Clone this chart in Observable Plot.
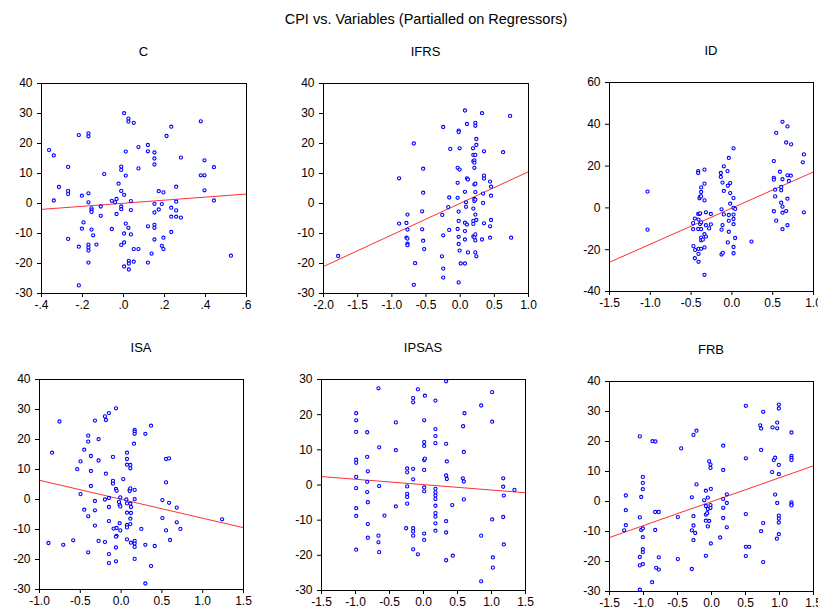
<!DOCTYPE html>
<html><head><meta charset="utf-8">
<script src="https://cdn.jsdelivr.net/npm/d3@7"></script>
<script src="https://cdn.jsdelivr.net/npm/@observablehq/plot@0.6"></script>
<style>
html,body{margin:0;padding:0;background:#fff;}
#chart{position:relative;width:818px;height:610px;overflow:hidden;font-family:"Liberation Sans",Arial,sans-serif;background:#fff;}
.title{position:absolute;white-space:nowrap;transform:translate(-50%,-50%);color:#000;line-height:1;}
.panel{position:absolute;}
.panel svg{max-width:none !important;display:block;}
</style></head><body><div id="chart"></div>
<script>
const MAIN_TITLE = "CPI vs. Variables (Partialled on Regressors)";

// ---- C ----
const C_POINTS = [[-0.363,17.8],[-0.340,16.0],[-0.340,1.0],[-0.315,5.5],[-0.270,12.2],[-0.270,4.2],[-0.270,3.2],[-0.270,-11.8],[-0.218,22.8],[-0.218,-14.4],[-0.218,-27.3],[-0.203,2.6],[-0.203,-8.4],[-0.195,-6.3],[-0.171,23.4],[-0.171,22.4],[-0.171,3.4],[-0.171,0.4],[-0.171,-13.7],[-0.171,-14.7],[-0.171,-15.7],[-0.171,-19.7],[-0.156,-1.6],[-0.156,-2.3],[-0.156,-2.8],[-0.156,-8.7],[-0.148,-10.6],[-0.132,-13.7],[-0.111,-1.0],[-0.111,-4.1],[-0.094,9.8],[-0.057,0.9],[-0.057,-8.5],[-0.041,0.4],[-0.034,1.5],[-0.034,-3.5],[-0.024,6.6],[-0.011,4.2],[-0.011,12.3],[-0.011,11.2],[-0.011,-1.0],[-0.011,-1.9],[-0.011,-13.8],[0.003,30.1],[0.003,2.9],[0.003,-10.0],[0.003,-13.0],[0.003,-21.0],[0.011,17.3],[0.011,9.3],[0.011,-6.7],[0.024,28.3],[0.024,27.3],[0.024,-8.1],[0.026,-19.1],[0.026,-20.0],[0.026,-22.0],[0.036,0.8],[0.036,-2.2],[0.036,-10.3],[0.050,26.9],[0.050,-15.2],[0.050,-19.4],[0.073,18.8],[0.073,11.7],[0.073,-15.2],[0.119,19.5],[0.119,17.4],[0.119,-7.6],[0.119,-19.7],[0.137,-16.7],[0.151,17.0],[0.151,15.0],[0.151,13.0],[0.151,-0.1],[0.151,-3.0],[0.151,-7.1],[0.151,-8.1],[0.151,-12.0],[0.172,4.1],[0.172,-2.0],[0.187,-0.2],[0.187,-14.1],[0.195,3.7],[0.195,-11.4],[0.195,-15.2],[0.210,22.5],[0.233,25.6],[0.233,-1.4],[0.233,-4.4],[0.233,-9.5],[0.257,5.6],[0.257,0.6],[0.257,-2.3],[0.257,-4.4],[0.280,15.3],[0.280,-4.7],[0.377,27.4],[0.377,9.4],[0.395,9.4],[0.395,14.4],[0.395,4.4],[0.441,12.1],[0.441,1.0],[0.524,-17.4]];
const C_LINE_X = [-0.4, 0.6];
const C_LINE_Y = [-1.96, 3.16];
const C_X_TICKS = [-0.4,-0.2,0,0.2,0.4,0.6];
const C_Y_TICKS = [-30,-20,-10,0,10,20,30,40];

// ---- IFRS ----
const IFRS_POINTS = [[-1.785,-17.5],[-0.894,8.4],[-0.894,-6.7],[-0.786,-6.5],[-0.786,-11.4],[-0.771,-3.7],[-0.771,-8.7],[-0.771,-11.7],[-0.771,-13.4],[-0.771,-13.9],[-0.678,20.0],[-0.678,-27.1],[-0.659,-19.9],[-0.556,-2.6],[-0.556,-8.6],[-0.541,11.6],[-0.541,3.6],[-0.541,-12.4],[-0.527,-15.2],[-0.262,-3.8],[-0.248,25.5],[-0.248,-10.6],[-0.267,-17.6],[-0.248,-21.7],[-0.248,-24.7],[-0.174,-1.2],[-0.160,2.0],[-0.160,-8.8],[-0.145,18.2],[-0.037,11.9],[-0.037,6.9],[-0.037,1.9],[-0.037,-8.5],[-0.022,24.3],[-0.022,23.8],[-0.022,-2.7],[-0.022,-5.8],[-0.022,-11.1],[-0.022,-13.5],[-0.022,-26.3],[-0.008,18.4],[-0.008,11.3],[-0.008,-15.7],[0.007,-20.0],[0.070,31.0],[0.070,3.9],[0.070,-6.4],[0.070,-9.2],[0.070,-12.0],[0.070,-20.0],[0.085,0.4],[0.085,-1.1],[0.099,26.5],[0.099,8.4],[0.114,8.0],[0.099,-7.0],[0.114,-16.3],[0.188,18.4],[0.193,16.2],[0.193,14.1],[0.193,-1.7],[0.193,-5.8],[0.193,-6.8],[0.193,-11.0],[0.208,14.4],[0.208,13.6],[0.208,11.9],[0.208,6.3],[0.208,1.5],[0.208,0.8],[0.208,-11.3],[0.222,26.9],[0.222,25.9],[0.222,16.2],[0.222,6.6],[0.222,3.8],[0.222,1.3],[0.222,-3.7],[0.222,-10.3],[0.222,-12.3],[0.222,-16.3],[0.237,21.5],[0.237,19.5],[0.237,-5.5],[0.237,-17.6],[0.320,30.1],[0.320,-12.0],[0.335,3.3],[0.335,0.2],[0.349,17.4],[0.349,9.3],[0.349,8.3],[0.349,-6.6],[0.438,7.3],[0.438,-7.6],[0.438,-11.4],[0.452,5.6],[0.452,2.6],[0.452,-5.5],[0.628,17.1],[0.731,29.2],[0.746,-11.4]];
const IFRS_LINE_X = [-2.0, 1.0];
const IFRS_LINE_Y = [-21.0, 10.6];
const IFRS_X_TICKS = [-2,-1.5,-1,-0.5,0,0.5,1];
const IFRS_Y_TICKS = [-30,-20,-10,0,10,20,30,40];

// ---- ID ----
const ID_POINTS = [[-1.034,7.8],[-1.034,-10.4],[-0.471,-18.3],[-0.454,-5.1],[-0.475,-7.3],[-0.475,-10.2],[-0.450,-20.2],[-0.454,-24.1],[-0.413,-10.1],[-0.413,-2.9],[-0.409,-5.6],[-0.413,17.6],[-0.413,16.7],[-0.409,-19.6],[-0.409,-22.0],[-0.409,-25.8],[-0.397,4.6],[-0.397,-2.9],[-0.389,5.4],[-0.389,-2.6],[-0.389,-7.7],[-0.377,9.8],[-0.377,7.6],[-0.377,5.5],[-0.377,-6.9],[-0.377,-10.2],[-0.377,-14.2],[-0.377,-15.5],[-0.377,-19.6],[-0.356,-15.2],[-0.336,18.3],[-0.336,11.6],[-0.336,3.6],[-0.336,-12.6],[-0.336,-18.9],[-0.336,-32.0],[-0.319,-2.1],[-0.319,-8.3],[-0.319,-13.7],[-0.279,-9.8],[-0.258,-2.9],[-0.258,-7.9],[-0.136,16.7],[-0.136,14.8],[-0.127,-0.7],[-0.127,-10.4],[-0.127,-22.3],[-0.115,12.1],[-0.115,-8.2],[-0.111,-21.5],[-0.099,19.9],[-0.099,8.1],[-0.099,-3.1],[-0.054,17.6],[-0.050,-16.5],[-0.050,10.6],[-0.038,23.9],[-0.038,-3.4],[-0.038,-6.2],[-0.038,-11.4],[-0.021,11.9],[-0.021,7.1],[-0.021,2.0],[0.020,28.5],[0.020,4.7],[0.020,0.0],[0.020,-3.2],[0.020,-5.3],[0.020,-7.8],[0.020,-18.7],[0.020,-21.7],[0.040,-0.5],[0.040,-14.4],[0.240,-16.1],[0.514,22.4],[0.514,14.4],[0.514,13.5],[0.514,-1.6],[0.530,8.7],[0.530,5.5],[0.543,-6.1],[0.543,35.9],[0.588,17.3],[0.604,10.0],[0.604,8.4],[0.604,2.5],[0.620,41.2],[0.620,13.7],[0.620,0.6],[0.620,-2.3],[0.620,-10.2],[0.665,31.3],[0.665,-1.5],[0.681,39.0],[0.681,15.6],[0.681,4.4],[0.681,-8.3],[0.698,12.9],[0.722,15.4],[0.726,30.4],[0.869,21.8],[0.882,25.6],[0.882,-2.1]];
const ID_LINE_X = [-1.5, 1.0];
const ID_LINE_Y = [-26.0, 17.2];
const ID_X_TICKS = [-1.5,-1,-0.5,0,0.5,1];
const ID_Y_TICKS = [-40,-20,0,20,40,60];

// ---- ISA ----
const ISA_POINTS = [[-0.890,-14.5],[-0.845,15.6],[-0.755,26.0],[-0.709,-15.1],[-0.587,-13.6],[-0.538,10.1],[-0.497,12.7],[-0.497,1.8],[-0.452,16.6],[-0.452,-3.4],[-0.403,21.3],[-0.403,19.3],[-0.403,-5.6],[-0.403,-17.6],[-0.370,14.5],[-0.370,9.5],[-0.370,4.5],[-0.321,26.3],[-0.321,-0.5],[-0.321,-3.6],[-0.321,-8.7],[-0.276,20.1],[-0.276,13.0],[-0.276,-13.8],[-0.198,27.7],[-0.186,26.5],[-0.186,8.6],[-0.198,0.0],[-0.198,-14.2],[-0.149,28.8],[-0.149,0.5],[-0.149,-2.5],[-0.149,-7.2],[-0.149,-18.2],[-0.149,-21.2],[-0.100,14.2],[-0.100,6.2],[-0.100,5.3],[-0.092,-9.7],[-0.063,30.4],[-0.063,3.5],[-0.055,2.9],[-0.055,-9.5],[-0.055,-12.1],[-0.063,-12.4],[-0.063,-16.0],[-0.063,-20.6],[-0.026,-0.8],[-0.018,-1.8],[-0.018,-7.9],[-0.010,0.7],[-0.010,-2.3],[-0.010,-10.3],[0.027,6.8],[0.064,0.0],[0.072,15.6],[0.072,13.5],[0.072,11.6],[0.072,-1.3],[0.072,-4.4],[0.072,-8.5],[0.072,-9.3],[0.072,-13.3],[0.105,3.3],[0.105,2.8],[0.113,11.5],[0.113,10.4],[0.113,3.7],[0.113,-1.4],[0.113,-6.4],[0.113,-8.2],[0.121,-2.5],[0.121,-4.5],[0.121,-14.4],[0.158,18.6],[0.166,23.2],[0.166,22.6],[0.166,21.9],[0.166,3.2],[0.166,0.1],[0.166,-13.8],[0.166,-14.7],[0.166,-15.8],[0.166,-19.8],[0.248,-9.8],[0.297,21.9],[0.297,-15.1],[0.297,-28.0],[0.367,24.6],[0.367,-22.2],[0.412,-15.5],[0.506,-0.2],[0.506,-6.2],[0.551,13.5],[0.551,5.7],[0.551,-10.3],[0.588,13.7],[0.588,-1.1],[0.600,-13.5],[0.682,-2.7],[0.682,-7.6],[0.727,-9.8],[1.238,-6.6]];
const ISA_LINE_X = [-1.0, 1.5];
const ISA_LINE_Y = [6.4, -9.4];
const ISA_X_TICKS = [-1,-0.5,0,0.5,1,1.5];
const ISA_Y_TICKS = [-30,-20,-10,0,10,20,30,40];

// ---- IPSAS ----
const IPSAS_POINTS = [[-0.990,20.4],[-0.990,18.4],[-0.990,15.1],[-0.990,7.2],[-0.990,6.3],[-0.990,2.3],[-0.990,-0.9],[-0.990,-6.6],[-0.990,-8.8],[-0.990,-18.4],[-0.828,15.0],[-0.828,8.0],[-0.819,3.9],[-0.828,0.9],[-0.828,-2.0],[-0.819,-4.9],[-0.819,-11.1],[-0.819,-15.0],[-0.662,27.5],[-0.652,10.7],[-0.652,-0.3],[-0.662,-14.4],[-0.662,-16.3],[-0.652,-19.1],[-0.574,-8.7],[-0.407,17.8],[-0.407,9.9],[-0.407,-6.1],[-0.255,-12.3],[-0.240,4.7],[-0.240,3.6],[-0.240,-0.4],[-0.240,-2.5],[-0.240,-3.4],[-0.240,-5.3],[-0.152,24.7],[-0.152,23.5],[-0.152,4.6],[-0.152,1.6],[-0.152,-12.3],[-0.152,-13.2],[-0.152,-14.4],[-0.152,-18.3],[-0.083,27.2],[-0.083,-19.7],[0.010,18.4],[0.010,12.2],[0.010,11.1],[0.010,7.1],[0.010,4.3],[0.010,-0.7],[0.010,-1.8],[0.010,-13.8],[0.010,-15.6],[0.020,25.4],[0.020,7.5],[0.176,24.0],[0.176,15.9],[0.176,13.9],[0.176,11.9],[0.176,-1.1],[0.176,-2.1],[0.176,-3.0],[0.176,-4.0],[0.176,-5.9],[0.176,-8.0],[0.176,-9.0],[0.176,-10.9],[0.176,-13.0],[0.333,29.5],[0.333,11.7],[0.343,6.7],[0.333,2.7],[0.343,1.7],[0.333,-10.3],[0.333,-13.5],[0.333,-21.4],[0.422,-5.7],[0.431,-20.1],[0.578,1.9],[0.583,16.7],[0.593,1.0],[0.593,9.4],[0.603,20.4],[0.593,-4.1],[0.848,22.6],[0.848,-14.4],[0.848,-27.4],[1.010,26.4],[1.010,18.0],[1.010,-9.8],[1.020,-20.6],[1.020,-23.5],[1.172,1.9],[1.172,-0.5],[1.181,-3.0],[1.172,-9.1],[1.181,-16.9],[1.338,-1.4]];
const IPSAS_LINE_X = [-1.5, 1.5];
const IPSAS_LINE_Y = [2.4, -2.2];
const IPSAS_X_TICKS = [-1.5,-1,-0.5,0,0.5,1,1.5];
const IPSAS_Y_TICKS = [-30,-20,-10,0,10,20,30];

// ---- FRB ----
const FRB_POINTS = [[-1.284,-9.6],[-1.260,2.0],[-1.260,-2.9],[-1.260,-7.9],[-1.054,21.7],[-1.054,-5.3],[-1.054,-18.5],[-1.054,-21.3],[-1.054,-29.4],[-1.034,1.5],[-1.034,-9.5],[-1.010,-9.0],[-1.010,8.2],[-1.010,6.2],[-1.010,4.1],[-1.010,-11.9],[-1.010,-15.9],[-1.010,-16.9],[-1.010,-20.9],[-0.873,-26.9],[-0.868,20.1],[-0.824,20.0],[-0.828,-3.5],[-0.828,-9.5],[-0.814,-22.1],[-0.775,-3.5],[-0.775,-18.6],[-0.775,-22.7],[-0.495,-5.2],[-0.495,-19.2],[-0.446,17.7],[-0.289,1.4],[-0.289,-9.6],[-0.289,-22.5],[-0.265,22.2],[-0.265,-4.9],[-0.265,-8.0],[-0.265,-12.9],[-0.240,-10.5],[-0.221,23.6],[-0.221,5.7],[-0.108,0.4],[-0.083,3.6],[-0.083,-1.5],[-0.083,-4.4],[-0.083,-6.4],[-0.083,-18.1],[-0.064,-3.9],[-0.054,1.3],[-0.054,-2.5],[-0.054,-8.3],[-0.034,13.4],[-0.034,-6.5],[-0.015,12.3],[-0.015,11.2],[-0.015,-1.2],[-0.015,-2.1],[-0.010,4.2],[-0.010,-14.0],[0.127,-12.0],[0.172,18.6],[0.172,10.5],[0.172,0.8],[0.172,-2.1],[0.172,-5.5],[0.225,2.4],[0.225,-0.5],[0.225,-8.6],[0.505,31.9],[0.505,14.4],[0.505,-4.2],[0.505,-15.1],[0.505,-18.2],[0.554,-15.1],[0.716,25.4],[0.730,24.3],[0.730,17.2],[0.730,-9.9],[0.760,29.9],[0.760,-7.2],[0.760,-20.2],[0.892,9.8],[0.897,24.7],[0.917,13.8],[0.936,14.6],[0.936,2.3],[0.961,-12.4],[0.966,26.3],[0.966,24.4],[0.966,-0.5],[0.990,32.3],[0.990,31.0],[0.990,12.2],[0.990,9.1],[0.990,-4.7],[0.990,-5.7],[0.990,-7.0],[0.990,-10.9],[1.176,23.0],[1.176,15.2],[1.176,14.5],[1.176,13.8],[1.176,-0.3],[1.176,-1.0],[1.176,-1.3]];
const FRB_LINE_X = [-1.5, 1.5];
const FRB_LINE_Y = [-12.0, 11.9];
const FRB_X_TICKS = [-1.5,-1,-0.5,0,0.5,1,1.5];
const FRB_Y_TICKS = [-30,-20,-10,0,10,20,30,40];

// ---- tick formats ----
const fmtDot = v => (v < 0 ? "-" : "") + Math.abs(v).toFixed(1).replace(/^0/, "");
const fmt1 = v => (v < 0 ? "-" : "") + Math.abs(v).toFixed(1);
const fmtInt = v => String(v);

// ---- layout (frame left, top, width, height) ----
const panels = [
  {name: "C",     pts: C_POINTS,     lx: C_LINE_X,     ly: C_LINE_Y,     xt: C_X_TICKS,     yt: C_Y_TICKS,     xf: fmtDot, frame: [41, 83, 205, 210]},
  {name: "IFRS",  pts: IFRS_POINTS,  lx: IFRS_LINE_X,  ly: IFRS_LINE_Y,  xt: IFRS_X_TICKS,  yt: IFRS_Y_TICKS,  xf: fmt1,   frame: [323, 83, 205, 210]},
  {name: "ID",    pts: ID_POINTS,    lx: ID_LINE_X,    ly: ID_LINE_Y,    xt: ID_X_TICKS,    yt: ID_Y_TICKS,    xf: fmt1,   frame: [609, 82, 204, 209]},
  {name: "ISA",   pts: ISA_POINTS,   lx: ISA_LINE_X,   ly: ISA_LINE_Y,   xt: ISA_X_TICKS,   yt: ISA_Y_TICKS,   xf: fmt1,   frame: [39, 379, 204, 210]},
  {name: "IPSAS", pts: IPSAS_POINTS, lx: IPSAS_LINE_X, ly: IPSAS_LINE_Y, xt: IPSAS_X_TICKS, yt: IPSAS_Y_TICKS, xf: fmt1,   frame: [321, 379, 204, 211]},
  {name: "FRB",   pts: FRB_POINTS,   lx: FRB_LINE_X,   ly: FRB_LINE_Y,   xt: FRB_X_TICKS,   yt: FRB_Y_TICKS,   xf: fmt1,   frame: [609, 381, 204, 210]}
];

const chart = document.getElementById("chart");
const FONT = "'Liberation Sans', Arial, sans-serif";

function addTitle(text, cx, cy, size) {
  const d = document.createElement("div");
  d.className = "title";
  d.textContent = text;
  d.style.left = cx + "px";
  d.style.top = cy + "px";
  d.style.fontSize = size + "px";
  chart.appendChild(d);
}

addTitle(MAIN_TITLE, 426, 19, 14.5);

const M = {l: 42, r: 14, t: 8, b: 26};
for (const p of panels) {
  const [fl, ft, fw, fh] = p.frame;
  const lineData = p.lx.map((x, i) => ({x, y: p.ly[i]}));
  const svg = Plot.plot({
    width: fw + M.l + M.r,
    height: fh + M.t + M.b,
    marginLeft: M.l, marginRight: M.r, marginTop: M.t, marginBottom: M.b,
    style: {fontFamily: FONT, fontSize: "12px", background: "transparent", overflow: "visible", color: "#000"},
    x: {domain: [p.xt[0], p.xt[p.xt.length - 1]], ticks: p.xt, tickFormat: p.xf, tickSize: 4, tickPadding: 3, label: null},
    y: {domain: [p.yt[0], p.yt[p.yt.length - 1]], ticks: p.yt, tickFormat: fmtInt, tickSize: 4, tickPadding: 5, label: null},
    marks: [
      Plot.line(lineData, {x: "x", y: "y", stroke: "#ff3030", strokeWidth: 1}),
      Plot.dot(p.pts, {x: d => d[0], y: d => d[1], r: 1.6, stroke: "#0000ff", strokeWidth: 1.1, fill: "white"}),
      Plot.frame({stroke: "#000", strokeWidth: 1})
    ]
  });
  const wrap = document.createElement("div");
  wrap.className = "panel";
  wrap.style.left = (fl - M.l) + "px";
  wrap.style.top = (ft - M.t) + "px";
  wrap.appendChild(svg);
  chart.appendChild(wrap);
  addTitle(p.name, fl + fw / 2, ft - 32, 13);
}
</script></body></html>
